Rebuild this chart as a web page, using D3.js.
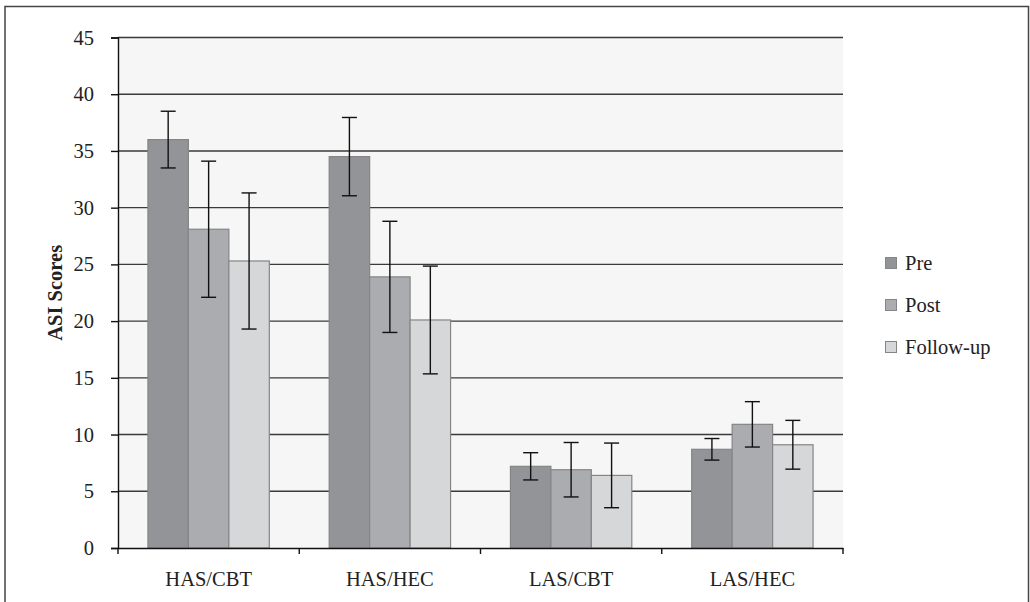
<!DOCTYPE html>
<html><head><meta charset="utf-8">
<script src="https://cdn.jsdelivr.net/npm/d3@7"></script>
<style>body{margin:0;background:#fff}svg{display:block}</style>
</head><body>
<svg id="c" width="1030" height="602"></svg>
<script>
const categories = ["HAS/CBT", "HAS/HEC", "LAS/CBT", "LAS/HEC"];
const seriesNames = ["Pre", "Post", "Follow-up"];
const preValues = [36.0, 34.5, 7.2, 8.7];
const postValues = [28.1, 23.9, 6.9, 10.9];
const followValues = [25.3, 20.1, 6.4, 9.1];
const preErr = [2.5, 3.45, 1.2, 0.95];
const postErr = [6.0, 4.9, 2.4, 2.0];
const followErr = [6.0, 4.75, 2.85, 2.15];
const yTicks = [0, 5, 10, 15, 20, 25, 30, 35, 40, 45];
const colors = ["#939497", "#abacaf", "#d6d7d9"];

const values = [preValues, postValues, followValues];
const errs = [preErr, postErr, followErr];

const svg = d3.select("#c");
const font = "'Liberation Serif','Times New Roman',serif";
const fs = 20.5;
const L = 118, R = 843, T = 37.5, B = 548;

svg.append("rect").attr("x", 5).attr("y", 6.5).attr("width", 1023.5).attr("height", 620)
  .attr("fill", "#fff").attr("stroke", "#444").attr("stroke-width", 1.5);

const x = d3.scaleBand().domain(categories).range([L, R]).paddingInner(0).paddingOuter(0);
const xs = d3.scaleBand().domain(seriesNames).range([0, x.bandwidth()]).paddingOuter(0.74).paddingInner(0);
const y = d3.scaleLinear().domain([0, 45]).range([B, T]);

svg.append("rect").attr("x", L).attr("y", T).attr("width", R - L).attr("height", B - T).attr("fill", "#f6f6f6");

// grid
svg.append("g").selectAll("line").data(yTicks.filter(d => d > 0)).join("line")
  .attr("x1", L).attr("x2", R).attr("y1", d => y(d)).attr("y2", d => y(d))
  .attr("stroke", "#3a3a3a").attr("stroke-width", 1.4);

// bars
const rows = [];
categories.forEach((c, i) => seriesNames.forEach((s, j) => rows.push({c, s, j, v: values[j][i], e: errs[j][i]})));
svg.append("g").selectAll("rect").data(rows).join("rect")
  .attr("x", d => x(d.c) + xs(d.s)).attr("width", xs.bandwidth())
  .attr("y", d => y(d.v)).attr("height", d => B - y(d.v))
  .attr("fill", d => colors[d.j]).attr("stroke", "#858587").attr("stroke-width", 1.2);

// error bars
const eg = svg.append("g").attr("stroke", "#111").attr("stroke-width", 1.4);
rows.forEach(d => {
  const cx = x(d.c) + xs(d.s) + xs.bandwidth() / 2;
  eg.append("line").attr("x1", cx).attr("x2", cx).attr("y1", y(d.v + d.e)).attr("y2", y(d.v - d.e));
  [d.v + d.e, d.v - d.e].forEach(v => eg.append("line").attr("x1", cx - 7.5).attr("x2", cx + 7.5).attr("y1", y(v)).attr("y2", y(v)));
});

// axes
const ya = svg.append("g").attr("transform", `translate(${L},0)`)
  .call(d3.axisLeft(y).tickValues(yTicks).tickSize(7).tickPadding(17));
ya.select(".domain").attr("stroke", "#111").attr("stroke-width", 1.4);
ya.selectAll(".tick line").attr("stroke", "#111").attr("stroke-width", 1.4);
ya.selectAll("text").attr("font-family", font).attr("font-size", fs).attr("fill", "#222");

const xa = svg.append("g").attr("transform", `translate(0,${B})`)
  .call(d3.axisBottom(x).tickSize(0).tickPadding(23));
xa.select(".domain").attr("stroke", "#111").attr("stroke-width", 1.4);
xa.selectAll("text").attr("font-family", font).attr("font-size", fs).attr("fill", "#222");
const bounds = [L, ...categories.map(c => x(c) + x.bandwidth())];
svg.append("g").selectAll("line").data(bounds).join("line")
  .attr("x1", d => d).attr("x2", d => d).attr("y1", B).attr("y2", B + 6)
  .attr("stroke", "#111").attr("stroke-width", 1.4);

svg.append("text").attr("transform", `translate(62,${(T + B) / 2}) rotate(-90)`)
  .attr("text-anchor", "middle").attr("font-family", font).attr("font-weight", "bold")
  .attr("font-size", fs).attr("fill", "#222").text("ASI Scores");

// legend
const lg = svg.append("g");
seriesNames.forEach((s, j) => {
  const cy = 263 + j * 42;
  lg.append("rect").attr("x", 885.5).attr("y", cy - 5.5).attr("width", 11).attr("height", 11)
    .attr("fill", colors[j]).attr("stroke", "#858587").attr("stroke-width", 1);
  lg.append("text").attr("x", 905).attr("y", cy + 7).attr("font-family", font)
    .attr("font-size", fs).attr("fill", "#222").text(s);
});
</script>
</body></html>
